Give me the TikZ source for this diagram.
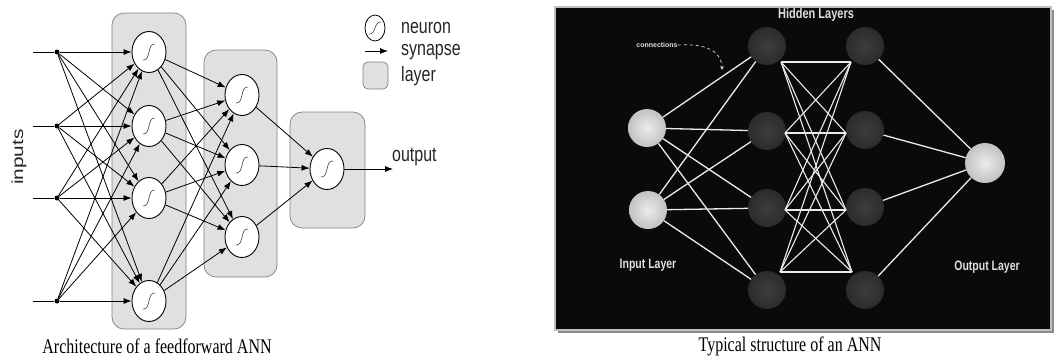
\documentclass[tikz,border=0pt]{standalone}
\usepackage{fontspec}
\usepackage{graphicx}
\setmainfont{Liberation Serif}
\setsansfont{Liberation Sans}
\usetikzlibrary{shapes.geometric,arrows.meta}
\newcommand{\vstr}[1]{\scalebox{1}[1.3]{#1}}
\newcommand{\hstr}[1]{\scalebox{1.3}[1]{#1}}
\pgfdeclareradialshading{lightball}{\pgfpoint{0bp}{0bp}}{color(0bp)=(gray!15); color(30bp)=(gray!55); color(50bp)=(gray!78)}
\pgfdeclareradialshading{darkball}{\pgfpoint{0bp}{0bp}}{color(0bp)=(black!76); color(50bp)=(black!90)}
\begin{document}
\begin{tikzpicture}[x=1pt,y=-1pt,
  layerbox/.style={draw=black!50, fill=black!12, rounded corners=12pt, line width=0.7pt},
  neuron/.style={ellipse, draw, fill=white, minimum width=34pt, minimum height=41pt, inner sep=0pt, line width=0.9pt},
  syn/.style={line width=0.8pt, -{Latex[length=8pt,width=6pt]}},
  dotn/.style={circle, fill=black, inner sep=0pt, minimum size=5pt},
  lbl/.style={font=\sffamily\fontsize{16}{18}\selectfont, text=black!85, inner sep=0pt},
  captxt/.style={font=\fontsize{16}{18}\selectfont, inner sep=0pt},
  sig/.pic={\draw[line width=0.6pt, black!75] (-6,8) .. controls (2,9) and (-2,-9) .. (6,-8);},
  lball/.style={circle, minimum size=38pt, inner sep=0pt, shading=lightball},
  dball/.style={circle, minimum size=38pt, inner sep=0pt, shading=darkball},
  wl/.style={draw=white!92!black, line width=1.3pt},
  wtxt/.style={text=white!88!black, font=\sffamily\bfseries, inner sep=0pt}
]
\useasboundingbox (0,0) rectangle (1057,360);
\fill[white] (0,0) rectangle (1057,360);

% ---------------- left: feedforward ANN ----------------
\draw[layerbox] (112,13) rectangle (186,329);
\draw[layerbox] (204,50) rectangle (277,277);
\draw[layerbox] (290,112) rectangle (365,228);

\node[neuron] (a1) at (149,52) {};
\node[neuron] (a2) at (149,126) {};
\node[neuron] (a3) at (149,198) {};
\node[neuron] (a4) at (149,301) {};
\node[neuron] (b1) at (242,95) {};
\node[neuron] (b2) at (242,165) {};
\node[neuron] (b3) at (242,237) {};
\node[neuron] (o) at (327,169) {};
\foreach \n in {a1,a2,a3,a4,b1,b2,b3,o} {\pic at (\n) {sig};}

\foreach \i/\y in {1/52,2/126,3/198,4/301} {
  \coordinate (s\i) at (33,\y);
  \node[dotn] (d\i) at (57,\y) {};
  \draw[line width=0.9pt] (s\i) -- (d\i);
}
\foreach \i in {1,2,3,4} {
  \foreach \j in {1,2,3,4} {
    \draw[syn] (d\i) -- (a\j);
  }
}
\foreach \i in {1,2,3,4} {
  \foreach \j in {1,2,3} {
    \draw[syn] (a\i) -- (b\j);
  }
}
\foreach \j in {1,2,3} {\draw[syn] (b\j) -- (o);}
\coordinate (oend) at (393,169);
\draw[syn] (o) -- (oend);

\node[lbl, anchor=south west] (outlbl) at (392,166) {\vstr{output}};
\node[lbl, rotate=90] (inlbl) at (19,157) {\hstr{inputs}};

% legend
\node[ellipse, draw, fill=white, minimum width=20pt, minimum height=26pt, inner sep=0pt, line width=0.8pt] (lgn) at (375,28) {};
\draw[line width=0.6pt, black!75] (369,34) .. controls (376,35) and (374,21) .. (381,22);
\coordinate (la) at (365,51);
\coordinate (lb) at (388,51);
\draw[syn] (la) -- (lb);
\draw[layerbox, rounded corners=5pt] (363,62) rectangle (388,89);
\node[lbl, anchor=west] (tn) at (401,28) {\vstr{neuron}};
\node[lbl, anchor=west] (ts) at (401,52) {\vstr{synapse}};
\node[lbl, anchor=west] (tl) at (401,76) {\vstr{layer}};

\node[captxt] (cap1) at (157,346) {\vstr{Architecture of a feedforward ANN}};

% ---------------- right: typical ANN ----------------
\fill[black!45] (558,10) rectangle (1054,333);
\draw[draw=black!25, fill=black!96, line width=1.5pt] (555,7) rectangle (1051,330);

\node[lball] (i1) at (647,128) {};
\node[lball] (i2) at (648,210) {};
\node[dball] (h1) at (767,46) {};
\node[dball] (h2) at (767,131) {};
\node[dball] (h3) at (767,208) {};
\node[dball] (h4) at (767,290) {};
\node[dball] (g1) at (865,46) {};
\node[dball] (g2) at (865,130) {};
\node[dball] (g3) at (865,207) {};
\node[dball] (g4) at (865,290) {};
\node[lball, minimum size=40pt] (y) at (985,163) {};

\foreach \i in {1,2} {\foreach \j in {1,2,3,4} {\draw[wl] (i\i) -- (h\j);}}
\coordinate (p1) at (781,62);
\coordinate (p2) at (785,133);
\coordinate (p3) at (785,210);
\coordinate (p4) at (780,272);
\coordinate (q1) at (851,62);
\coordinate (q2) at (846,133);
\coordinate (q3) at (846,210);
\coordinate (q4) at (852,272);
\foreach \i in {1,2,3,4} {\foreach \j in {1,2,3,4} {\draw[wl, line width=1.1pt] (p\i) -- (q\j);}}
\foreach \j in {1,2,3,4} {\draw[wl] (g\j) -- (y);}

\node[wtxt, font=\sffamily\bfseries\fontsize{7}{8}\selectfont] (conn) at (657,45) {connections};
\coordinate (carr) at (722,70);
\draw[white!85!black, dashed, line width=0.7pt, -{Stealth[length=4pt,width=3.5pt]}] (conn.east) .. controls (712,43) and (722,55) .. (carr);
\node[wtxt, font=\sffamily\bfseries\fontsize{11}{12}\selectfont] (hl) at (816,15) {\vstr{Hidden Layers}};
\node[wtxt, font=\sffamily\bfseries\fontsize{10.5}{12}\selectfont] (il) at (648,265) {\vstr{Input Layer}};
\node[wtxt, font=\sffamily\bfseries\fontsize{10.5}{12}\selectfont] (ol) at (987,267) {\vstr{Output Layer}};

\node[captxt] (cap2) at (790,346) {\vstr{Typical structure of an ANN}};
\end{tikzpicture}
\end{document}
